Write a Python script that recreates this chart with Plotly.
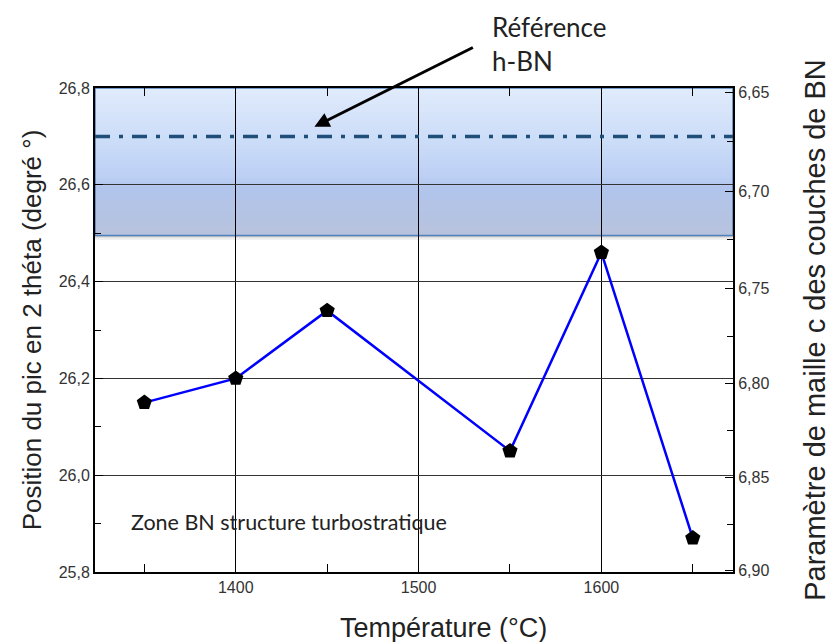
import numpy as np
import plotly.graph_objects as go

# données
temperature = [1350, 1400, 1450, 1550, 1600, 1650]
position_2theta = [26.15, 26.20, 26.34, 26.05, 26.46, 25.87]

# axe de droite : paramètre c (Bragg, Cu K-alpha)
lambda_cu = 1.5406
c_ticks = [6.65, 6.70, 6.75, 6.80, 6.85, 6.90]
c_minor = [6.675, 6.725, 6.775, 6.825, 6.875]
c_labels = ["6,65", "6,70", "6,75", "6,80", "6,85", "6,90"]

# zone h-BN de référence
ref_hbn = 26.70
band_top = 26.8
band_bottom = 26.495


def c_to_2theta(c):
    return 2 * np.degrees(np.arcsin(lambda_cu / np.array(c)))


fig = go.Figure()

fig.add_trace(go.Scatter(x=temperature, y=position_2theta, mode="lines+markers",
                         line=dict(color="#0000ff", width=2.5),
                         marker=dict(symbol="pentagon", size=16, color="black"),
                         showlegend=False))
# trace invisible pour afficher l'axe de droite
fig.add_trace(go.Scatter(x=temperature, y=position_2theta, yaxis="y2", mode="lines",
                         opacity=0, showlegend=False, hoverinfo="skip"))

# bande dégradée
stops = [(0.0, (226, 236, 252)), (0.35, (205, 222, 249)), (0.62, (188, 208, 244)),
         (0.70, (177, 197, 236)), (1.0, (184, 195, 222))]
n = 40
h = band_top - band_bottom
for i in range(n):
    f = (i + 0.5) / n
    for k in range(len(stops) - 1):
        if stops[k][0] <= f <= stops[k + 1][0]:
            t = (f - stops[k][0]) / (stops[k + 1][0] - stops[k][0])
            col = [int(stops[k][1][j] + t * (stops[k + 1][1][j] - stops[k][1][j])) for j in range(3)]
            break
    y_hi = band_top - h * i / n + (0.004 if i > 0 else 0)
    y_lo = band_top - h * (i + 1) / n
    fig.add_shape(type="rect", xref="x domain", yref="y", x0=0, x1=1, y0=y_lo, y1=y_hi,
                  fillcolor="rgb(%d,%d,%d)" % tuple(col), line=dict(width=0), layer="below")
# ombre
for i, g in enumerate([205, 224, 240]):
    fig.add_shape(type="rect", xref="x domain", yref="y", x0=0, x1=1,
                  y0=band_bottom - 0.003 * (i + 1), y1=band_bottom - 0.003 * i,
                  fillcolor="rgb(%d,%d,%d)" % (g, g, g), line=dict(width=0), layer="below")
fig.add_shape(type="rect", xref="x domain", yref="y", x0=0, x1=1, y0=band_bottom, y1=band_top,
              fillcolor="rgba(0,0,0,0)", line=dict(color="#4f81bd", width=1.5), layer="below")

fig.add_shape(type="line", xref="x domain", yref="y", x0=0, x1=1, y0=ref_hbn, y1=ref_hbn,
              line=dict(color="#1f4e79", width=3.5, dash="15px,9px,4px,9px"), layer="above")

fig.add_annotation(x=1443, y=26.72, ax=160, ay=-80, text="", showarrow=True,
                   arrowhead=2, arrowsize=1, arrowwidth=3, arrowcolor="black")
fig.add_annotation(xref="paper", yref="paper", x=0.619, y=1.163, xanchor="left", yanchor="top",
                   text="Référence<br>h-BN", showarrow=False, align="left",
                   font=dict(family="Lato", size=26, color="#222"))
fig.add_annotation(xref="paper", yref="y", x=0.054, y=25.903, xanchor="left", yanchor="middle",
                   text="Zone BN structure turbostratique", showarrow=False,
                   font=dict(family="Lato", size=21.5, color="#222"))
# titre de l'axe x (légèrement décalé à droite comme sur l'original)
fig.add_annotation(xref="paper", yref="paper", x=0.547, y=-0.116, xanchor="center", yanchor="middle",
                   text="Température (°C)", showarrow=False,
                   font=dict(family="Liberation Sans, Arial", size=27, color="#222"))

axis_font = dict(family="Liberation Sans, Arial", size=16, color="#333")
title_font = dict(family="Liberation Sans, Arial", size=26, color="#222")

fig.update_layout(
    width=830, height=634,
    margin=dict(l=87, r=105, t=80, b=70),
    paper_bgcolor="white", plot_bgcolor="white",
    separators=", ",
    xaxis=dict(range=[1323, 1672], tickvals=[1400, 1500, 1600], ticks="inside", ticklen=8,
               tickcolor="black", showline=True, linecolor="black", linewidth=2, mirror="allticks",
               showgrid=True, gridcolor="black", gridwidth=1, zeroline=False,
               minor=dict(tickmode="array", tickvals=[1350, 1450, 1550, 1650], ticks="inside",
                          ticklen=6, tickcolor="black", showgrid=False),
               tickfont=axis_font),
    yaxis=dict(range=[25.8, 26.8], dtick=0.2, tick0=25.8, tickformat=".1f", ticks="inside", ticklen=8,
               tickcolor="black", showline=True, linecolor="black", linewidth=2, mirror=True,
               showgrid=True, gridcolor="#333", gridwidth=1, zeroline=False,
               minor=dict(dtick=0.1, ticks="inside", ticklen=6, tickcolor="black", showgrid=False),
               tickfont=axis_font,
               title=dict(text="Position du pic en 2 théta (degré °)", font=title_font, standoff=10)),
    yaxis2=dict(range=[25.8, 26.8], overlaying="y", side="right", anchor="x",
                tickmode="array", tickvals=c_to_2theta(c_ticks), ticktext=c_labels,
                ticks="inside", ticklen=8, tickcolor="black", showgrid=False, zeroline=False,
                showline=True, linecolor="black", linewidth=2,
                minor=dict(tickmode="array", tickvals=c_to_2theta(c_minor), ticks="inside",
                           ticklen=6, tickcolor="black", showgrid=False),
                tickfont=axis_font,
                title=dict(text="Paramètre de maille c des couches de BN", font=dict(
                    family="Liberation Sans, Arial", size=29, color="#222"), standoff=36)),
)

fig.write_html("out.html")
